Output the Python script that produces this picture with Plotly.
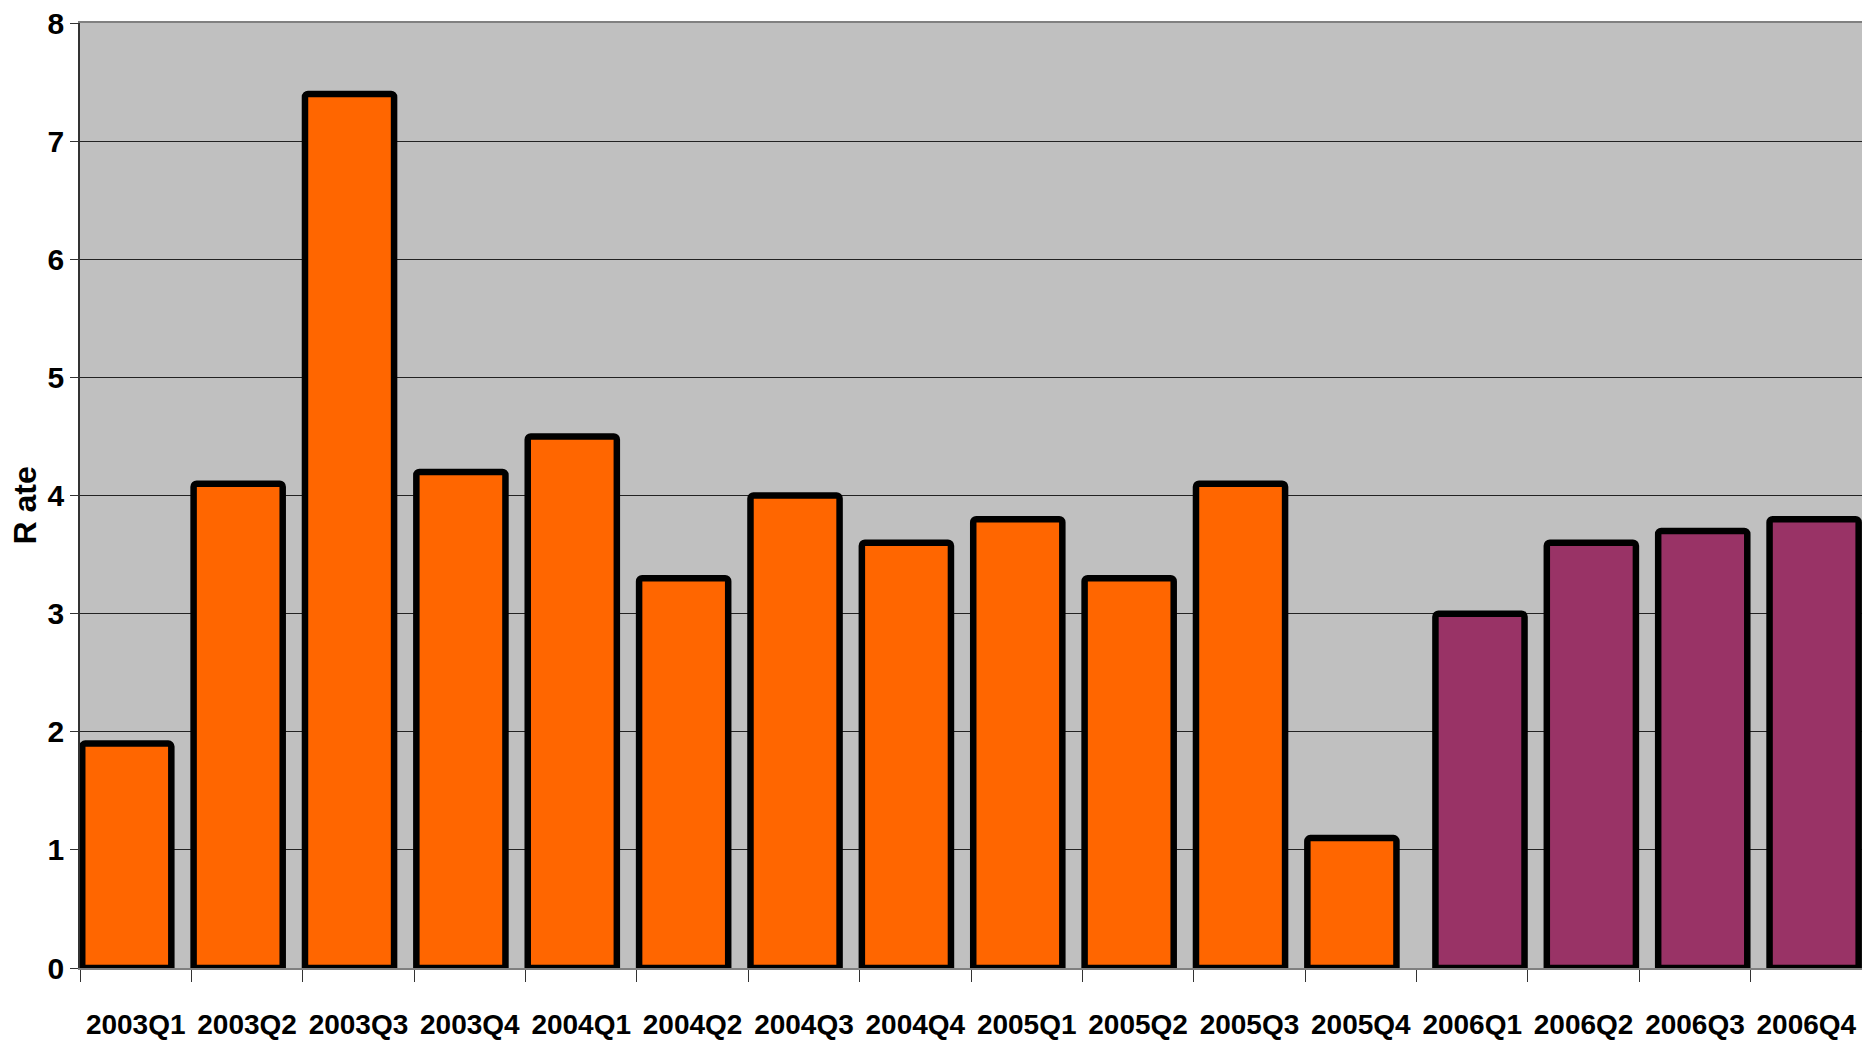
import plotly.graph_objects as go

# Quarterly rate series
quarters = ["2003Q1", "2003Q2", "2003Q3", "2003Q4",
            "2004Q1", "2004Q2", "2004Q3", "2004Q4",
            "2005Q1", "2005Q2", "2005Q3", "2005Q4"]
rates = [1.9, 4.1, 7.4, 4.2, 4.5, 3.3, 4.0, 3.6, 3.8, 3.3, 4.1, 1.1]

quarters_2006 = ["2006Q1", "2006Q2", "2006Q3", "2006Q4"]
rates_2006 = [3.0, 3.6, 3.7, 3.8]

y_ticks = [0, 1, 2, 3, 4, 5, 6, 7, 8]

ORANGE = "#FF6600"
PLUM = "#993366"
FONT = "Liberation Sans, Arial, sans-serif"

fig = go.Figure()
fig.add_trace(go.Bar(
    x=quarters, y=rates,
    offset=-0.48, width=0.80,
    marker=dict(color=ORANGE, line=dict(color="black", width=6.5), cornerradius=3),
    showlegend=False,
))
fig.add_trace(go.Bar(
    x=quarters_2006, y=rates_2006,
    offset=-0.33, width=0.80,
    marker=dict(color=PLUM, line=dict(color="black", width=6.5), cornerradius=3),
    showlegend=False,
))

fig.update_layout(
    width=1862, height=1046,
    margin=dict(l=80, r=0, t=23, b=78),
    paper_bgcolor="white",
    plot_bgcolor="#C0C0C0",
    barmode="overlay",
    font=dict(family=FONT, color="black"),
)

fig.update_xaxes(
    type="category",
    categoryorder="array",
    categoryarray=quarters + quarters_2006,
    range=[-0.5, len(quarters) + len(quarters_2006) - 0.5],
    tickson="boundaries",
    ticks="outside", ticklen=12, tickwidth=1, tickcolor="#333333",
    showline=True, linecolor="#808080", linewidth=2, mirror=True,
    showgrid=False,
    tickangle=0,
    automargin=False,
    tickfont=dict(family=FONT, size=28, weight="bold"),
    ticklabelstandoff=30,
)

fig.update_yaxes(
    range=[0, 8],
    tickvals=y_ticks,
    ticks="outside", ticklen=8, tickwidth=1, tickcolor="#333333",
    showline=True, linecolor="#333333", linewidth=1.5,
    showgrid=True, gridcolor="#222222", gridwidth=1,
    zeroline=False,
    automargin=False,
    tickfont=dict(family=FONT, size=30, weight="bold"),
    ticklabelstandoff=0,
)

# Vertical axis caption, placed left of the tick labels
fig.add_annotation(
    text="R ate", textangle=-90,
    xref="paper", yref="paper", x=0, y=0.5,
    xanchor="center", yanchor="middle",
    xshift=-56, yshift=-10,
    showarrow=False,
    font=dict(family=FONT, size=32, weight="bold", color="black"),
)

fig.write_html("out.html")
